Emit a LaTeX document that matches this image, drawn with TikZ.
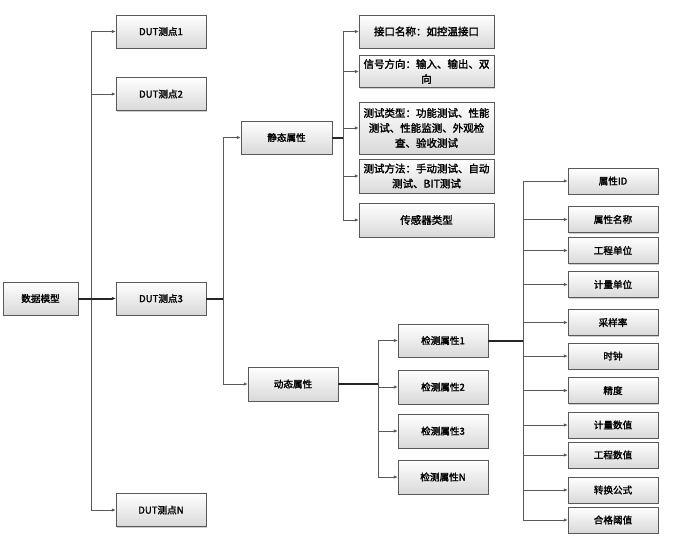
\documentclass[tikz,border=0pt]{standalone}
\usepackage{fontspec}
\setmainfont{Noto Sans CJK SC}[AutoFakeBold=1.8]
\usetikzlibrary{arrows.meta,shadows,positioning}

\tikzset{
  box/.style={draw=gray!70!black, top color=white, bottom color=gray!30,
    drop shadow={shadow xshift=1pt,shadow yshift=-1pt,fill=gray!75},
    minimum width=90pt, minimum height=33pt, inner sep=1pt, align=center,
    font=\fontsize{9.6}{11}\selectfont\bfseries},
  wide/.style={box, minimum width=135pt, font=\fontsize{10.5}{15}\selectfont\bfseries},
  small/.style={box, minimum height=26pt},
  link/.style={draw=gray!70!black, line width=1pt, -{Latex[length=4pt,width=3.5pt]}},
  main/.style={draw=black!85, line width=2pt},
}

\begin{document}
\begin{tikzpicture}[x=1pt,y={(0pt,-1pt)}]
\useasboundingbox (0,0) rectangle (673,541);

% root and test points
\node[box, minimum width=75pt] (model) at (40.5,298.5) {数据模型};
\node[box] (dut1) at (161,31.5) {DUT测点1};
\node[box] (dut2) at (161,94) {DUT测点2};
\node[box] (dut3) at (161,298.5) {DUT测点3};
\node[box] (dutN) at (161,510) {DUT测点N};

% static / dynamic
\node[box, minimum width=91pt] (static) at (286.5,137.5) {静态属性};
\node[box, minimum height=34pt] (dynamic) at (293,384) {动态属性};

% static attributes
\node[wide] (iface) at (426.5,31.5) {接口名称：如控温接口};
\node[wide, minimum height=32pt] (signal) at (426.5,71.5) {信号方向：输入、输出、双\\向};
\node[wide, minimum height=52pt] (ttype) at (426.5,128) {测试类型：功能测试、性能\\测试、性能监测、外观检\\查、验收测试};
\node[wide, minimum height=34pt] (tmethod) at (426.5,176) {测试方法：手动测试、自动\\测试、BIT测试};
\node[wide, minimum height=34pt] (sensor) at (426.5,220) {传感器类型};

% detection attributes
\node[box] (det1) at (443,340.5) {检测属性1};
\node[box, minimum height=34pt] (det2) at (443,387) {检测属性2};
\node[box, minimum height=34pt] (det3) at (443,431) {检测属性3};
\node[box, minimum height=34pt] (detN) at (443,477) {检测属性N};

% fields of one detection attribute
\foreach \n/\y/\t in {attrid/181/属性ID, attrname/219.5/属性名称, engunit/250.5/工程单位,
    measunit/284.5/计量单位, rate/322.5/采样率, clock/356/时钟, precision/390.5/精度,
    measval/425/计量数值, engval/455/工程数值, formula/490/转换公式, limit/520/合格阈值}
  \node[small] (\n) at (613,\y) {\t};

% connectors
\coordinate (t0) at (91,298.5);
\draw[main] (model.east) -- (t0);
\draw[link] (t0) |- (dut1.west);
\draw[link] (t0) |- (dut2.west);
\draw[link] (t0) |- (dutN.west);
\draw[main,-{Latex[length=4pt,width=3.5pt]}] (t0) -- (dut3.west);

\coordinate (t1) at (223,298.5);
\draw[main] (dut3.east) -- (t1);
\draw[link] (t1) |- (static.west);
\draw[link] (t1) |- (dynamic.west);

\coordinate (t2) at (343,137.5);
\draw[main] (static.east) -- (t2);
\foreach \n in {iface,signal,ttype,tmethod,sensor}
  \draw[link] (t2) |- (\n.west);

\coordinate (t3) at (378,384);
\draw[main] (dynamic.east) -- (t3);
\foreach \n in {det1,det2,det3,detN}
  \draw[link] (t3) |- (\n.west);

\coordinate (t4) at (523,340.5);
\draw[main] (det1.east) -- (t4);
\foreach \n in {attrid,attrname,engunit,measunit,rate,clock,precision,measval,engval,formula,limit}
  \draw[link] (t4) |- (\n.west);
\end{tikzpicture}
\end{document}
